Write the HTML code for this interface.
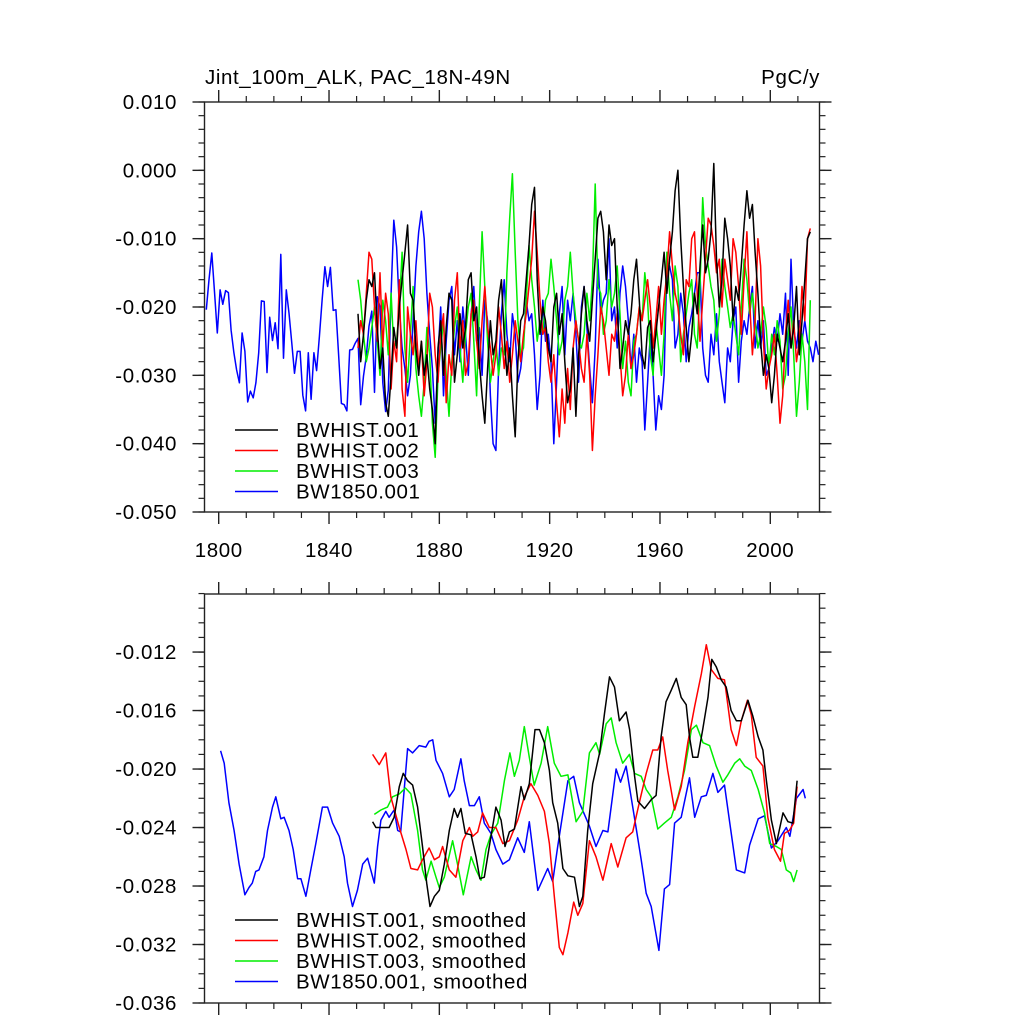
<!DOCTYPE html>
<html><head><meta charset="utf-8"><style>
html,body{margin:0;padding:0;background:#fff;width:1024px;height:1024px;overflow:hidden}
svg{display:block;font-family:"Liberation Sans",Arial,sans-serif}
svg text{letter-spacing:0.6px}
</style></head><body>
<svg id="chart" width="1024" height="1024" viewBox="0 0 1024 1024"></svg>
<script>
// ---------------- data ----------------
const annualStartHist = 1850;
const annualStartCtrl = 1795;
const hist001 = [-0.021,-0.028,-0.024,-0.019,-0.016,-0.017,-0.015,-0.023,-0.029,-0.026,
-0.034,-0.036,-0.030,-0.023,-0.026,-0.020,-0.016,-0.012,-0.008,-0.018,
-0.019,-0.026,-0.030,-0.025,-0.030,-0.027,-0.032,-0.035,-0.040,-0.026,
-0.022,-0.030,-0.023,-0.018,-0.019,-0.031,-0.027,-0.021,-0.026,-0.023,
-0.016,-0.015,-0.022,-0.020,-0.028,-0.033,-0.037,-0.029,-0.022,-0.027,
-0.025,-0.019,-0.016,-0.024,-0.030,-0.026,-0.033,-0.039,-0.028,-0.022,
-0.021,-0.016,-0.011,-0.005,-0.0025,-0.016,-0.024,-0.020,-0.022,-0.026,
-0.028,-0.020,-0.018,-0.024,-0.021,-0.028,-0.034,-0.032,-0.026,-0.036,
-0.027,-0.021,-0.017,-0.022,-0.025,-0.019,-0.013,-0.007,-0.006,-0.009,
-0.016,-0.008,-0.011,-0.010,-0.020,-0.029,-0.026,-0.022,-0.024,-0.021,
-0.016,-0.013,-0.019,-0.027,-0.029,-0.023,-0.022,-0.028,-0.024,-0.020,
-0.016,-0.012,-0.018,-0.013,-0.009,-0.003,0.000,-0.010,-0.017,-0.023,
-0.028,-0.024,-0.018,-0.021,-0.014,-0.008,-0.015,-0.013,-0.009,0.001,
-0.013,-0.020,-0.016,-0.007,-0.010,-0.014,-0.022,-0.017,-0.019,-0.014,
-0.008,-0.003,-0.007,-0.005,-0.012,-0.018,-0.025,-0.030,-0.027,-0.029,
-0.034,-0.030,-0.024,-0.026,-0.028,-0.025,-0.021,-0.026,-0.023,-0.017,
-0.027,-0.022,-0.016,-0.010,-0.009];
const hist002 = [-0.026,-0.022,-0.024,-0.018,-0.012,-0.013,-0.020,-0.025,-0.015,-0.026,
-0.018,-0.021,-0.032,-0.025,-0.028,-0.016,-0.032,-0.036,-0.020,-0.024,
-0.027,-0.022,-0.029,-0.025,-0.033,-0.028,-0.018,-0.020,-0.027,-0.031,
-0.024,-0.021,-0.034,-0.027,-0.030,-0.019,-0.015,-0.026,-0.022,-0.030,
-0.028,-0.021,-0.019,-0.025,-0.029,-0.022,-0.017,-0.023,-0.026,-0.030,
-0.027,-0.020,-0.024,-0.029,-0.025,-0.031,-0.027,-0.022,-0.025,-0.028,
-0.024,-0.021,-0.017,-0.013,-0.006,-0.012,-0.019,-0.024,-0.023,-0.028,
-0.031,-0.027,-0.034,-0.039,-0.032,-0.037,-0.029,-0.035,-0.026,-0.022,
-0.025,-0.029,-0.031,-0.024,-0.030,-0.041,-0.033,-0.027,-0.020,-0.022,
-0.026,-0.030,-0.024,-0.025,-0.021,-0.027,-0.033,-0.030,-0.024,-0.029,
-0.027,-0.024,-0.020,-0.022,-0.019,-0.016,-0.020,-0.026,-0.022,-0.017,
-0.024,-0.019,-0.015,-0.009,-0.014,-0.018,-0.020,-0.024,-0.027,-0.016,
-0.017,-0.010,-0.009,-0.018,-0.025,-0.019,-0.013,-0.007,-0.008,-0.011,
-0.015,-0.013,-0.020,-0.013,-0.016,-0.019,-0.010,-0.012,-0.017,-0.024,
-0.016,-0.009,-0.019,-0.027,-0.022,-0.010,-0.014,-0.025,-0.032,-0.029,
-0.027,-0.024,-0.030,-0.037,-0.033,-0.024,-0.019,-0.026,-0.022,-0.028,
-0.025,-0.017,-0.022,-0.010,-0.0085];
const hist003 = [-0.016,-0.019,-0.024,-0.028,-0.026,-0.023,-0.020,-0.025,-0.030,-0.019,
-0.022,-0.027,-0.018,-0.026,-0.025,-0.020,-0.012,-0.026,-0.031,-0.024,
-0.017,-0.029,-0.033,-0.036,-0.031,-0.023,-0.027,-0.037,-0.042,-0.030,
-0.026,-0.022,-0.030,-0.036,-0.028,-0.023,-0.020,-0.026,-0.031,-0.024,
-0.020,-0.018,-0.025,-0.033,-0.020,-0.009,-0.017,-0.025,-0.031,-0.028,
-0.025,-0.030,-0.026,-0.027,-0.015,-0.007,-0.0005,-0.012,-0.022,-0.027,
-0.026,-0.019,-0.011,-0.016,-0.020,-0.025,-0.022,-0.024,-0.019,-0.018,
-0.013,-0.017,-0.022,-0.027,-0.025,-0.019,-0.017,-0.012,-0.018,-0.022,
-0.025,-0.026,-0.024,-0.018,-0.022,-0.016,-0.002,-0.017,-0.018,-0.024,
-0.022,-0.016,-0.020,-0.018,-0.014,-0.021,-0.029,-0.025,-0.031,-0.033,
-0.025,-0.024,-0.020,-0.022,-0.015,-0.019,-0.027,-0.030,-0.022,-0.026,
-0.030,-0.024,-0.012,-0.018,-0.022,-0.014,-0.017,-0.028,-0.024,-0.021,
-0.018,-0.016,-0.024,-0.026,-0.017,-0.004,-0.011,-0.014,-0.017,-0.019,
-0.025,-0.021,-0.013,-0.017,-0.020,-0.023,-0.021,-0.024,-0.027,-0.020,
-0.013,-0.016,-0.021,-0.018,-0.022,-0.026,-0.024,-0.020,-0.023,-0.029,
-0.024,-0.027,-0.022,-0.025,-0.032,-0.030,-0.024,-0.020,-0.027,-0.036,
-0.031,-0.024,-0.028,-0.035,-0.019];
const ctrl001 = [-0.0204,-0.016,-0.0121,-0.018,-0.0238,
-0.0175,-0.0196,-0.0176,-0.0179,-0.0234,-0.0267,-0.0292,-0.0311,-0.0238,-0.0265,
-0.0339,-0.0323,-0.0333,-0.0311,-0.0267,-0.0191,-0.0192,-0.0296,-0.0215,-0.0249,
-0.0223,-0.0261,-0.0123,-0.0275,-0.0175,-0.0209,-0.0253,-0.0297,-0.0265,-0.0265,
-0.0329,-0.0352,-0.0267,-0.0335,-0.0267,-0.0293,-0.0243,-0.0190,-0.0141,-0.0170,
-0.0142,-0.0205,-0.0204,-0.0272,-0.0341,-0.0343,-0.0352,-0.0263,-0.0262,-0.0253,
-0.0246,-0.0343,-0.0301,-0.0272,-0.0228,-0.0206,-0.0325,-0.0185,-0.0200,-0.0311,
-0.0353,-0.0322,-0.0180,-0.0073,-0.0112,-0.020,-0.026,-0.029,-0.033,-0.030,
-0.022,-0.014,-0.009,-0.006,-0.010,-0.018,-0.024,-0.029,-0.037,-0.027,
-0.020,-0.033,-0.025,-0.019,-0.017,-0.027,-0.022,-0.028,-0.020,-0.024,
-0.030,-0.021,-0.017,-0.025,-0.023,-0.030,-0.019,-0.022,-0.033,-0.040,
-0.041,-0.029,-0.021,-0.016,-0.024,-0.028,-0.021,-0.024,-0.031,-0.029,
-0.025,-0.019,-0.022,-0.021,-0.027,-0.035,-0.030,-0.019,-0.025,-0.024,
-0.028,-0.040,-0.031,-0.021,-0.017,-0.027,-0.019,-0.022,-0.018,-0.024,
-0.031,-0.020,-0.017,-0.023,-0.029,-0.034,-0.026,-0.013,-0.021,-0.019,
-0.018,-0.010,-0.022,-0.020,-0.026,-0.018,-0.014,-0.017,-0.022,-0.029,
-0.024,-0.031,-0.026,-0.028,-0.038,-0.031,-0.024,-0.030,-0.038,-0.033,
-0.035,-0.030,-0.014,-0.014,-0.016,-0.026,-0.024,-0.018,-0.021,-0.028,
-0.023,-0.021,-0.018,-0.015,-0.015,-0.026,-0.030,-0.031,-0.024,-0.027,
-0.021,-0.028,-0.031,-0.034,-0.026,-0.028,-0.022,-0.020,-0.031,-0.025,
-0.022,-0.024,-0.020,-0.017,-0.026,-0.022,-0.026,-0.022,-0.030,-0.029,
-0.026,-0.023,-0.025,-0.021,-0.024,-0.018,-0.030,-0.013,-0.023,-0.026,
-0.022,-0.025,-0.022,-0.025,-0.026,-0.028,-0.025,-0.027];

const smYears001 = [1855.8,1857,1859.4,1861.8,1863.6,1865.5,1866.9,1868.5,1870.3,1872.1,1873.9,1875.4,1876.6,1878.2,1880,1881.8,1883.6,1885.4,1886.6,1887.8,1889.4,1891.5,1893.3,1894.7,1896.3,1898.1,1900.5,1902.4,1903.8,1905.4,1907.2,1909.6,1910.8,1912.6,1914.7,1916.3,1918.1,1919.9,1921.1,1922.9,1924.8,1926.6,1929,1930.8,1932,1933.8,1935.6,1938.1,1939.9,1941.7,1943.5,1945.3,1947.7,1949,1950.8,1952,1954.4,1956.8,1958.6,1960.4,1962.2,1964.1,1965.9,1967.7,1969.5,1970.7,1971.9,1973.7,1975.5,1977.4,1978.8,1980.4,1982.2,1984,1985.8,1987.7,1989.5,1991.9,1993.7,1995.6,1997.3,1998.6,2000.4,2002.2,2004.6,2006.4,2008.2,2009.7];
const smVals001 = [-0.0236,-0.0240,-0.0240,-0.0240,-0.0233,-0.0212,-0.0203,-0.0208,-0.0211,-0.0226,-0.0253,-0.0278,-0.0294,-0.0287,-0.0283,-0.0265,-0.0242,-0.0227,-0.0233,-0.0227,-0.0244,-0.0245,-0.0260,-0.0275,-0.0274,-0.0253,-0.0226,-0.0235,-0.0253,-0.0243,-0.0241,-0.0212,-0.0221,-0.0210,-0.0173,-0.0173,-0.0182,-0.0201,-0.0223,-0.0237,-0.0268,-0.0273,-0.0274,-0.0294,-0.0287,-0.0242,-0.0210,-0.0189,-0.0162,-0.0137,-0.0144,-0.0167,-0.0161,-0.0173,-0.0205,-0.0222,-0.0227,-0.0221,-0.0218,-0.0178,-0.0154,-0.0146,-0.0138,-0.0151,-0.0156,-0.0178,-0.0192,-0.0192,-0.0173,-0.0151,-0.0125,-0.0130,-0.0139,-0.0144,-0.0160,-0.0167,-0.0167,-0.0153,-0.0164,-0.0178,-0.0187,-0.0208,-0.0235,-0.0251,-0.0230,-0.0236,-0.0237,-0.0208];
const smYears002 = [1855.8,1858.2,1860.6,1862.4,1865.5,1867.9,1869.7,1872.1,1873.9,1876.3,1878.2,1880,1881.2,1883.6,1886,1888.5,1890.9,1892.1,1893.9,1895.7,1898.1,1900.5,1903,1905.4,1908.4,1910.8,1913.2,1915.7,1918.1,1919.9,1921.7,1923.5,1924.8,1926.6,1928.7,1930.2,1932,1934.4,1936.8,1939.3,1942.3,1944.7,1947.7,1950.1,1952.5,1955,1957.4,1959.2,1961,1962.8,1965.3,1967.7,1970.1,1972.6,1975,1976.8,1978.6,1981,1983.4,1985.8,1987.7,1989.5,1991.7,1993.1,1994.9,1997.3,1999.1,2001.5,2003.7,2005.1,2006.9,2008.5,2009.7];
const smVals002 = [-0.0190,-0.0197,-0.0189,-0.0219,-0.0240,-0.0255,-0.0268,-0.0269,-0.0262,-0.0254,-0.0262,-0.0260,-0.0253,-0.0269,-0.0274,-0.0249,-0.0240,-0.0246,-0.0243,-0.0230,-0.0240,-0.0240,-0.0251,-0.0249,-0.0235,-0.0219,-0.0210,-0.0218,-0.0229,-0.0251,-0.0287,-0.0322,-0.0327,-0.0312,-0.0291,-0.0300,-0.0292,-0.0249,-0.0260,-0.0276,-0.0251,-0.0267,-0.0247,-0.0243,-0.0223,-0.0203,-0.0187,-0.0187,-0.0178,-0.0201,-0.0228,-0.0212,-0.0182,-0.0157,-0.0135,-0.0115,-0.0132,-0.0138,-0.0139,-0.0173,-0.0184,-0.0167,-0.0153,-0.0163,-0.0192,-0.0198,-0.0233,-0.0255,-0.0263,-0.0244,-0.0242,-0.0237,-0.0212];
const smYears003 = [1856.4,1858.8,1861.2,1863,1865.5,1867.7,1869.7,1872.1,1873.9,1875.1,1877,1878.8,1880,1881.8,1884.8,1886.6,1888.7,1891.5,1893.3,1895.1,1896.9,1898.7,1901.2,1903.6,1905.6,1907.2,1909,1910.8,1912.6,1914.4,1916.9,1919.3,1921.7,1924.1,1926.6,1929.6,1932,1934.4,1936.8,1938.1,1940.5,1942.3,1944.1,1946.5,1948.9,1950.8,1953.2,1955,1956.8,1959.2,1961.6,1964.1,1966.5,1968.9,1971.4,1973.2,1975.6,1978,1980.4,1982.8,1984.6,1987.1,1988.9,1990.7,1993.1,1995.6,1997.9,1999.8,2002.2,2004,2005.8,2007.4,2008.5,2009.7];
const smVals003 = [-0.0231,-0.0228,-0.0226,-0.0219,-0.0217,-0.0213,-0.0217,-0.0242,-0.0269,-0.0276,-0.0263,-0.0274,-0.0281,-0.0274,-0.0249,-0.0265,-0.0286,-0.0260,-0.0269,-0.0276,-0.0255,-0.0245,-0.0237,-0.0208,-0.0189,-0.0205,-0.0194,-0.0171,-0.0192,-0.0211,-0.0196,-0.0171,-0.0196,-0.0205,-0.0204,-0.0236,-0.0229,-0.0189,-0.0182,-0.0190,-0.0169,-0.0165,-0.0182,-0.0196,-0.0190,-0.0203,-0.0205,-0.0214,-0.0219,-0.0241,-0.0237,-0.0233,-0.0219,-0.0201,-0.0173,-0.0170,-0.0182,-0.0184,-0.0198,-0.0209,-0.0204,-0.0196,-0.0193,-0.0198,-0.0201,-0.0214,-0.0230,-0.0251,-0.0253,-0.0255,-0.0269,-0.0271,-0.0277,-0.0269];
const smYearsCtrl = [1800.7,1802,1803.7,1805.6,1807.4,1809.5,1811,1812.2,1813.4,1814.6,1816.4,1817.7,1819.5,1820.7,1822.5,1823.7,1825.5,1827,1828.6,1829.8,1831.6,1833.4,1835.2,1837.6,1839.5,1841.3,1843.7,1845.5,1846.7,1848.5,1850.3,1852.2,1854,1856.4,1857.6,1858.8,1860.6,1861.8,1863.6,1864.9,1866,1868.5,1870.3,1872.7,1875.1,1876.3,1877.6,1878.8,1881.2,1883.6,1885.4,1887.8,1889,1890.9,1892.7,1894.5,1896.3,1898.7,1900.5,1903,1905.4,1908.4,1910.8,1912.6,1915.7,1919.3,1921.1,1922.9,1926.6,1928.7,1930.8,1934.4,1936.8,1939.3,1941.1,1944.1,1945.7,1947.7,1951.4,1953.2,1955,1956.8,1959.6,1961.6,1963.5,1965.3,1967.7,1970.7,1972.6,1975,1976.8,1979.2,1981,1983.4,1985.3,1987.7,1990.7,1992.5,1995.6,1997.9,2000.4,2002.8,2005.8,2007.1,2009.5,2011.9,2012.7];
const smValsCtrl = [-0.01875,-0.0196,-0.0223,-0.0242,-0.0265,-0.0286,-0.0281,-0.0278,-0.0270,-0.0269,-0.0260,-0.0242,-0.0226,-0.0219,-0.0234,-0.0233,-0.0242,-0.0255,-0.0275,-0.0275,-0.0287,-0.0269,-0.0251,-0.0226,-0.0226,-0.0237,-0.0246,-0.0260,-0.0278,-0.0294,-0.0283,-0.0265,-0.0261,-0.0278,-0.0253,-0.0235,-0.0229,-0.0233,-0.0228,-0.0242,-0.0243,-0.0186,-0.0189,-0.0184,-0.0185,-0.0181,-0.0180,-0.0194,-0.0203,-0.0219,-0.0214,-0.0193,-0.0208,-0.0225,-0.0225,-0.0219,-0.0237,-0.0244,-0.0255,-0.0265,-0.0262,-0.0247,-0.0257,-0.0236,-0.0283,-0.0268,-0.0277,-0.0253,-0.0208,-0.0205,-0.0223,-0.0239,-0.0253,-0.0242,-0.0243,-0.0200,-0.0209,-0.0198,-0.0241,-0.0262,-0.0285,-0.0294,-0.0324,-0.0282,-0.0279,-0.0237,-0.0233,-0.0206,-0.0233,-0.0219,-0.0218,-0.0203,-0.0216,-0.0211,-0.0237,-0.0269,-0.0271,-0.0252,-0.0234,-0.0232,-0.0254,-0.0249,-0.0240,-0.0246,-0.0220,-0.0214,-0.0220];

const xTickYears = [1800,1840,1880,1920,1960,2000];
const topYTicks = [0.010,0.000,-0.010,-0.020,-0.030,-0.040,-0.050];
const topYLabels = ["0.010","0.000","-0.010","-0.020","-0.030","-0.040","-0.050"];
const botYTicks = [-0.012,-0.016,-0.020,-0.024,-0.028,-0.032,-0.036];
const botYLabels = ["-0.012","-0.016","-0.020","-0.024","-0.028","-0.032","-0.036"];
const legendTop = ["BWHIST.001","BWHIST.002","BWHIST.003","BW1850.001"];
const legendBot = ["BWHIST.001, smoothed","BWHIST.002, smoothed","BWHIST.003, smoothed","BW1850.001, smoothed"];
const colors = ["#000000","#ff0000","#00ee00","#0000ff"];

// ---------------- drawing ----------------
const NS = "http://www.w3.org/2000/svg";
const svg = document.getElementById("chart");
const FS = 20.5;
const L = 204.5, R = 819.5;
function xScale(yr){ return 218.7 + (yr - 1800) * 2.758; }
const panels = [
  {top:102, bot:512, vmax:0.010, vmin:-0.050},
  {top:594, bot:1003, vmax:-0.00803, vmin:-0.036}
];
function yScaleFor(p){ return v => p.top + (p.vmax - v) / (p.vmax - p.vmin) * (p.bot - p.top); }
function mk(tag, attrs, parent){
  const e = document.createElementNS(NS, tag);
  for (const k in attrs) e.setAttribute(k, attrs[k]);
  (parent || svg).appendChild(e);
  return e;
}
function line(x1,y1,x2,y2,g,w){ return mk("line",{x1,y1,x2,y2,stroke:"#222","stroke-width":w||1.4},g); }

function drawAxes(p, idx, yTicks, yLabels, minorStep, showXLabels){
  const ys = yScaleFor(p);
  const g = mk("g",{});
  
  
  mk("rect",{x:L,y:p.top,width:R-L,height:p.bot-p.top,fill:"none",stroke:"#222","stroke-width":1.4},g);
  const nMin = Math.round((p.vmax - p.vmin)/minorStep);
  for (let i=0;i<=nMin;i++){
    const v = p.vmin + i*minorStep;
    const y = ys(v);
    if (y < p.top-0.5 || y > p.bot+0.5) continue;
    line(L-6,y,L,y,g,1.2); line(R,y,R+6,y,g,1.2);
  }
  yTicks.forEach((v,i)=>{
    const y = ys(v);
    line(L-12,y,L,y,g,1.4); line(R,y,R+12,y,g,1.4);
    const t = mk("text",{x:177,y:y+7,"text-anchor":"end","font-size":FS,fill:"#000"},g);
    
    
    t.textContent = yLabels[i];
  });
  for (let yr=1800; yr<=2010; yr+=10){
    const x = xScale(yr);
    const major = (yr-1800)%40===0;
    const len = major?12:6;
    line(x,p.bot,x,p.bot+len,g,major?1.4:1.2);
    line(x,p.top-len,x,p.top,g,major?1.4:1.2);
  }
  if (showXLabels){
    xTickYears.forEach(yr=>{
      const t = mk("text",{x:xScale(yr),y:557,"text-anchor":"middle","font-size":FS,fill:"#000"},g);
      
      
      t.textContent = String(yr);
    });
  }
}

function poly(xs, vals, ys, color, name){
  const pts = vals.map((v,i)=>xScale(xs[i]).toFixed(1)+","+ys(v).toFixed(1)).join(" ");
  const e = mk("polyline",{points:pts,fill:"none",stroke:color,"stroke-width":1.5,"stroke-linejoin":"round"});
  
  
}
function yearsFrom(start, n){ const a=[]; for(let i=0;i<n;i++) a.push(start+i+0.5); return a; }

drawAxes(panels[0],0,topYTicks,topYLabels,0.002,true);
drawAxes(panels[1],1,botYTicks,botYLabels,0.001,false);

const ysTop = yScaleFor(panels[0]);
poly(yearsFrom(annualStartCtrl, ctrl001.length), ctrl001, ysTop, colors[3], 'series-bw1850-001');
poly(yearsFrom(annualStartHist, hist003.length), hist003, ysTop, colors[2], 'series-bwhist-003');
poly(yearsFrom(annualStartHist, hist002.length), hist002, ysTop, colors[1], 'series-bwhist-002');
poly(yearsFrom(annualStartHist, hist001.length), hist001, ysTop, colors[0], 'series-bwhist-001');

const ysBot = yScaleFor(panels[1]);
poly(smYearsCtrl, smValsCtrl, ysBot, colors[3], 'series-bw1850-001-smoothed');
poly(smYears003, smVals003, ysBot, colors[2], 'series-bwhist-003-smoothed');
poly(smYears002, smVals002, ysBot, colors[1], 'series-bwhist-002-smoothed');
poly(smYears001, smVals001, ysBot, colors[0], 'series-bwhist-001-smoothed');

function legend(labels, y0, name){
  const g = mk("g",{});
  
  
  labels.forEach((lab,i)=>{
    const y = y0 + i*20.5;
    mk("line",{x1:235,y1:y,x2:278,y2:y,stroke:colors[i],"stroke-width":1.5},g);
    const t = mk("text",{x:296,y:y+7,"font-size":FS,fill:"#000"},g);
    
    
    t.textContent = lab;
  });
}
legend(legendTop, 430, 'top-legend');
legend(legendBot, 920, 'bottom-legend');

const title = mk("text",{x:205,y:84,"font-size":FS,fill:"#000"});


title.textContent = "Jint_100m_ALK, PAC_18N-49N";
const units = mk("text",{x:820,y:84,"font-size":FS,fill:"#000","text-anchor":"end"});


units.textContent = "PgC/y";
</script>
</body></html>
